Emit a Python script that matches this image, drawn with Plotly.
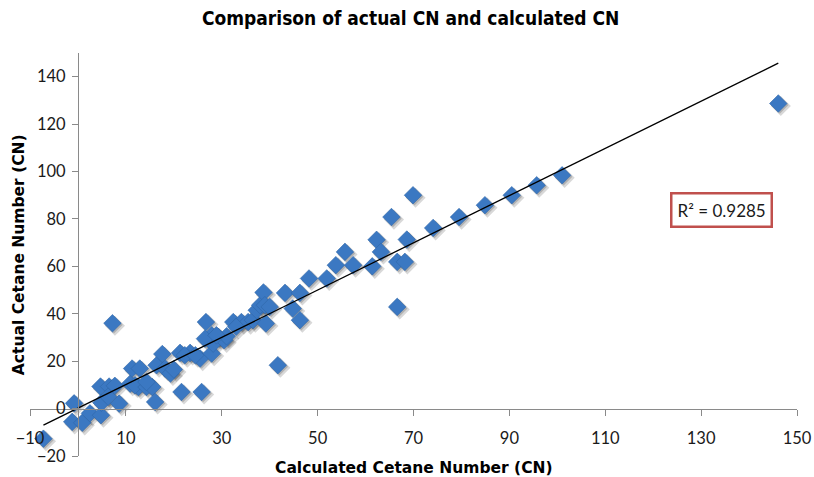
import numpy as np
import plotly.graph_objects as go

# Calculated CN (x) and actual CN (y)
calc_cn = [-7.2, -0.8, -1.2, 0.9, 2.5, 4.8, 4.7, 6.5, 7.7, 4.9, 8.6, 7.2, 6.3,
           10.9, 11.3, 12.9, 12.6, 11.9, 14.3, 15.5, 16.1, 14.3, 16.4, 17.6, 18.2,
           19.3, 20.0, 21.3, 23.4, 22.3, 21.6, 25.8, 25.5, 24.5, 26.7, 27.9, 27.9,
           29.3, 28.2, 30.5, 31.0, 26.5, 28.9, 32.4, 34.1, 35.5, 33.0, 36.5, 37.3,
           38.0, 38.7, 39.0, 40.0, 39.2, 41.7, 43.2, 44.8, 46.3, 46.3, 48.2, 51.9,
           53.8, 55.7, 57.4, 61.4, 62.3, 63.2, 65.4, 69.9, 66.6, 66.6, 68.2, 68.6,
           74.1, 79.5, 84.9, 90.5, 95.7, 101.0, 146.1]
actual_cn = [-12.7, 2.2, -5.6, -6.0, -2.0, -2.8, 9.3, 9.3, 9.6, 2.5, 2.1, 36.0, 5.0,
             10.5, 16.9, 16.9, 9.1, 9.8, 9.1, 9.1, 2.8, 11.2, 18.3, 23.0, 16.9,
             14.8, 16.5, 23.5, 23.5, 22.5, 7.0, 7.0, 21.1, 22.5, 36.5, 30.9, 23.2,
             30.2, 27.4, 28.8, 30.5, 29.5, 30.9, 36.5, 36.5, 36.5, 34.5, 37.3, 41.5,
             43.6, 49.0, 43.6, 42.9, 35.9, 18.3, 48.8, 42.2, 37.3, 48.8, 54.9, 54.9,
             60.5, 66.1, 60.5, 60.0, 71.2, 66.1, 80.8, 90.0, 42.9, 61.9, 61.9, 71.3,
             76.2, 80.8, 85.8, 90.0, 94.2, 98.4, 128.7]

# Linear trendline parameters (read from the drawn trendline)
trend_slope = 0.996
trend_intercept = 0.2
r_squared_label = "R² = 0.9285"

x_tick_vals = list(range(-10, 151, 20))
y_tick_vals = list(range(-20, 141, 20))

title_text = "Comparison of actual CN and calculated CN"
x_title = "Calculated Cetane Number (CN)"
y_title = "Actual Cetane Number (CN)"

W, H = 814, 477
# desired plot-area edges in page pixels
PL, PR, PT, PB = 30, 797, 53, 455.7
ML, MT = PL, PT
MR = W - PR
MB = H - PB
plot_w = PR - PL
plot_h = PB - PT
x_range = [-10, 150]
y_range = [-20, 150]
px_per_x = plot_w / (x_range[1] - x_range[0])
px_per_y = plot_h / (y_range[1] - y_range[0])


def px_x(sx):
    return (sx - PL) / plot_w


def px_y(sy):
    return (PB - sy) / plot_h


xs = np.array(calc_cn)
ys = np.array(actual_cn)

fig = go.Figure()

# soft drop shadow (offset a couple of pixels down-right)
for off, alpha, grow in [(2.5, 0.18, 2), (1.5, 0.22, 0)]:
    fig.add_trace(go.Scatter(
        x=xs + off / px_per_x, y=ys - off / px_per_y, mode="markers",
        marker=dict(symbol="diamond", size=13.5 + grow,
                    color=f"rgba(40,40,40,{alpha})", line=dict(width=0)),
        hoverinfo="skip", showlegend=False))

fig.add_trace(go.Scatter(
    x=xs, y=ys, mode="markers",
    marker=dict(symbol="diamond", size=13.5, color="#3b78c2",
                line=dict(width=0.6, color="#2f66a8")),
    showlegend=False))

tx = np.array([xs.min(), xs.max()])
fig.add_trace(go.Scatter(
    x=tx, y=trend_slope * tx + trend_intercept, mode="lines",
    line=dict(color="black", width=1.3), showlegend=False, hoverinfo="skip"))

axis_font = dict(family="Lato, Open Sans, sans-serif", size=16.5, color="#1a1a1a")

fig.update_layout(
    width=W, height=H,
    margin=dict(l=ML, r=MR, t=MT, b=MB, autoexpand=False),
    paper_bgcolor="white", plot_bgcolor="white",
    xaxis=dict(range=x_range, tickvals=x_tick_vals, showgrid=False, zeroline=False,
               showline=True, linecolor="#8a8a8a", linewidth=1,
               ticks="outside", ticklen=6, tickcolor="#8a8a8a",
               anchor="free", position=(0 - y_range[0]) / (y_range[1] - y_range[0]),
               tickfont=axis_font, ticklabelstandoff=9, automargin=False),
    yaxis=dict(range=y_range, tickvals=y_tick_vals, showgrid=False, zeroline=False,
               showline=True, linecolor="#8a8a8a", linewidth=1,
               ticks="outside", ticklen=6, tickcolor="#8a8a8a",
               anchor="free", position=(0 - x_range[0]) / (x_range[1] - x_range[0]),
               tickfont=axis_font, ticklabelstandoff=3, automargin=False),
    annotations=[
        dict(text=f"<b>{title_text}</b>", xref="paper", yref="paper",
             x=px_x(410), y=px_y(18), xanchor="center", yanchor="middle",
             showarrow=False,
             font=dict(family="DejaVu Sans Condensed, DejaVu Sans", size=19, color="black")),
        dict(text=f"<b>{x_title}</b>", xref="paper", yref="paper",
             x=px_x(414), y=px_y(468),
             xanchor="center", yanchor="middle", showarrow=False,
             font=dict(family="DejaVu Sans", size=15.5, color="black")),
        dict(text=f"<b>{y_title}</b>", xref="paper", yref="paper",
             x=px_x(19), y=px_y(255), textangle=-90,
             xanchor="center", yanchor="middle", showarrow=False,
             font=dict(family="DejaVu Sans", size=15.5, color="black")),
        dict(text=r_squared_label, xref="paper", yref="paper",
             x=px_x(721), y=px_y(210),
             xanchor="center", yanchor="middle", showarrow=False,
             bordercolor="#c0504d", borderwidth=2.5, borderpad=5, bgcolor="white",
             font=dict(family="Lato, Open Sans, sans-serif", size=17, color="#1a1a1a")),
    ],
)

# remove the browser's default 8px page margin so the figure fills the window
fig.write_html("out.html",
               config={"displayModeBar": False},
               post_script="document.body.style.margin='0';document.body.style.overflow='hidden';")
